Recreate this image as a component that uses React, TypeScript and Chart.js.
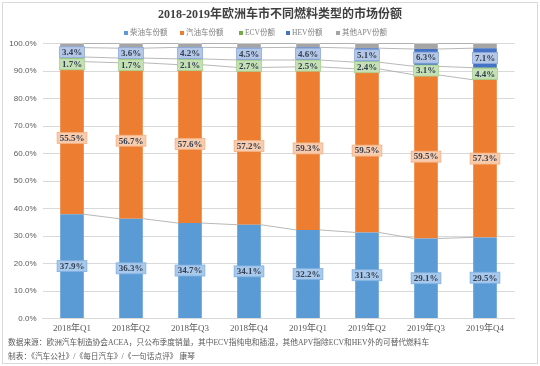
import React, { useEffect, useRef } from "react";
import { Chart, registerables } from "chart.js";

Chart.register(...registerables);

const categories = ["2018年Q1", "2018年Q2", "2018年Q3", "2018年Q4", "2019年Q1", "2019年Q2", "2019年Q3", "2019年Q4"];
const dieselShare = [37.9, 36.3, 34.7, 34.1, 32.2, 31.3, 29.1, 29.5];
const petrolShare = [55.5, 56.7, 57.6, 57.2, 59.3, 59.5, 59.5, 57.3];
const ecvShare = [1.7, 1.7, 2.1, 2.7, 2.5, 2.4, 3.1, 4.4];
const hevShare = [3.4, 3.6, 4.2, 4.5, 4.6, 5.1, 6.3, 7.1];
const otherApvShare = [1.5, 1.7, 1.4, 1.5, 1.4, 1.7, 2.0, 1.7];
const seriesNames = ["柴油车份额", "汽油车份额", "ECV份额", "HEV份额", "其他APV份额"];
const yTicks = [0, 10, 20, 30, 40, 50, 60, 70, 80, 90, 100];

const titleText = "2018-2019年欧洲车市不同燃料类型的市场份额";
const noteLines = [
  "数据来源：欧洲汽车制造协会ACEA，只公布季度销量，其中ECV指纯电和插混，其他APV指除ECV和HEV外的可替代燃料车",
  "制表：《汽车公社》/《每日汽车》/《一句话点评》 康琴",
];

const colors = ["#5b9bd5", "#ed7d31", "#70ad47", "#4472c4", "#a5a5a5"];
const labelFills = ["#a8c9ec", "#f8cbad", "#c5e0b4", "#b4c7e7", null];
const labelBorders = ["#7fb0e0", "#f4b183", "#a9d18e", "#8faadc", null];

const SERIF = "'Times New Roman', 'Liberation Serif', 'Noto Sans CJK SC', serif";
const SANS = "'Liberation Sans', 'DejaVu Sans', sans-serif";

const decorPlugin = {
  id: "decor",
  beforeDraw(chart: any) {
    const { ctx, width, height } = chart;
    ctx.save();
    ctx.fillStyle = "#ffffff";
    ctx.fillRect(0, 0, width, height);
    ctx.restore();
  },
  afterDatasetsDraw(chart: any) {
    const { ctx } = chart;
    const n = chart.data.datasets.length;
    // series lines
    ctx.save();
    ctx.strokeStyle = "#a6a6a6";
    ctx.lineWidth = 0.8;
    for (let d = 0; d < n; d++) {
      const meta = chart.getDatasetMeta(d);
      for (let j = 0; j < meta.data.length - 1; j++) {
        const a: any = meta.data[j];
        const b: any = meta.data[j + 1];
        ctx.beginPath();
        ctx.moveTo(a.x + a.width / 2, a.y);
        ctx.lineTo(b.x - b.width / 2, b.y);
        ctx.stroke();
      }
    }
    ctx.restore();
    // data labels, drawn from the top series down so lower boxes can avoid overlap
    ctx.save();
    ctx.font = `bold 9px ${SERIF}`;
    ctx.textAlign = "center";
    ctx.textBaseline = "middle";
    const h = 11;
    const prevBottom: number[] = [];
    for (let d = n - 1; d >= 0; d--) {
      if (!labelFills[d]) continue;
      const meta = chart.getDatasetMeta(d);
      const ds = chart.data.datasets[d];
      meta.data.forEach((el: any, j: number) => {
        const txt = (ds.data[j] as number).toFixed(1) + "%";
        const cx = el.x;
        let cy = (el.y + el.base) / 2;
        if (prevBottom[j] !== undefined && cy - h / 2 < prevBottom[j] + 1) {
          cy = prevBottom[j] + 1 + h / 2;
        }
        prevBottom[j] = cy + h / 2;
        const w = Math.max(ctx.measureText(txt).width + 5, el.width - 1);
        ctx.fillStyle = labelFills[d] as string;
        ctx.fillRect(cx - w / 2, cy - h / 2, w, h);
        ctx.strokeStyle = labelBorders[d] as string;
        ctx.lineWidth = 0.8;
        ctx.strokeRect(cx - w / 2, cy - h / 2, w, h);
        ctx.fillStyle = "#333f50";
        ctx.fillText(txt, cx, cy + 0.5);
      });
    }
    ctx.restore();
  },
  afterDraw(chart: any) {
    const { ctx } = chart;
    ctx.save();
    // title
    ctx.fillStyle = "#404040";
    ctx.font = `bold 12px ${SERIF}`;
    ctx.textAlign = "center";
    ctx.textBaseline = "middle";
    ctx.fillText(titleText, 280, 15);
    // legend
    const legendX = [126, 182, 241, 288, 338];
    ctx.font = `7.5px ${SERIF}`;
    ctx.textAlign = "left";
    seriesNames.forEach((name, i) => {
      ctx.fillStyle = colors[i];
      ctx.fillRect(legendX[i] - 2, 31, 4, 4);
      ctx.fillStyle = "#7f7f7f";
      ctx.fillText(name, legendX[i] + 4, 33.5);
    });
    // notes
    ctx.font = `7.7px ${SERIF}`;
    ctx.fillStyle = "#595959";
    ctx.fillText(noteLines[0], 8, 343);
    ctx.fillText(noteLines[1], 8, 357);
    // frame
    ctx.strokeStyle = "#d9d9d9";
    ctx.lineWidth = 1;
    ctx.strokeRect(2.5, 2.5, 535, 361);
    ctx.restore();
  },
};

export default function App() {
  const ref = useRef<HTMLCanvasElement | null>(null);
  useEffect(() => {
    document.body.style.margin = "0";
    const data = [dieselShare, petrolShare, ecvShare, hevShare, otherApvShare];
    const chart = new Chart(ref.current as HTMLCanvasElement, {
      type: "bar",
      data: {
        labels: categories,
        datasets: data.map((arr, i) => ({
          label: seriesNames[i],
          data: arr,
          backgroundColor: colors[i],
          borderWidth: 0,
          barPercentage: 1,
          categoryPercentage: 0.4,
        })),
      },
      options: {
        responsive: false,
        animation: false,
        devicePixelRatio: 1,
        layout: { padding: { top: 43.5, right: 25.5, bottom: 25.5, left: 0 } },
        plugins: {
          legend: { display: false },
          title: { display: false },
          tooltip: { enabled: false },
        },
        scales: {
          x: {
            stacked: true,
            grid: { display: false, drawTicks: false },
            border: { display: true, color: "#d9d9d9" },
            ticks: { color: "#595959", font: { size: 9, family: SERIF }, padding: 5 },
            afterFit: (s: any) => { s.height = 22; },
          },
          y: {
            stacked: true,
            min: 0,
            max: 100,
            afterBuildTicks: (s: any) => { s.ticks = yTicks.map((v) => ({ value: v })); },
            grid: { color: "#d9d9d9", drawTicks: false },
            border: { display: false },
            ticks: {
              color: "#595959",
              font: { size: 8, family: SANS },
              padding: 6,
              callback: (v: any) => Number(v).toFixed(1) + "%",
            },
            afterFit: (s: any) => { s.width = 42.5; },
          },
        },
      },
      plugins: [decorPlugin],
    });
    return () => chart.destroy();
  }, []);
  return (
    <div style={{ width: 540, height: 366 }}>
      <canvas ref={ref} width={540} height={366} />
    </div>
  );
}
